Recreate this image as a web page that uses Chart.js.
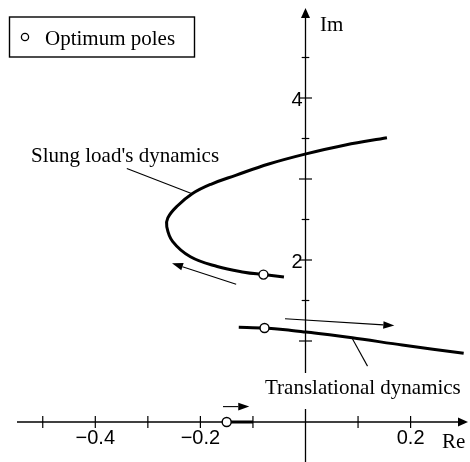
<!DOCTYPE html>
<html><head><meta charset="utf-8">
<script src="https://cdn.jsdelivr.net/npm/chart.js@4.4.1/dist/chart.umd.min.js"></script>
<style>html,body{margin:0;padding:0;background:#fff}canvas{display:block}</style>
</head><body>
<canvas id="c" width="470" height="462"></canvas>
<script>
// ---- data ----
const slungRe = [0.155, 0.076, 0.001, -0.070, -0.133, -0.180, -0.215, -0.245, -0.262, -0.264, -0.253, -0.219, -0.168, -0.117, -0.080, -0.041];
const slungIm = [3.51, 3.42, 3.31, 3.185, 3.045, 2.935, 2.82, 2.66, 2.52, 2.41, 2.23, 2.04, 1.92, 1.85, 1.82, 1.79];
const transRe = [-0.127, -0.078, -0.038, 0.001, 0.089, 0.184, 0.301];
const transIm = [1.17, 1.16, 1.14, 1.11, 1.04, 0.95, 0.85];
const realRe = [-0.150, -0.100];
const realIm = [0, 0];
const poleRe = [-0.080, -0.078, -0.150];
const poleIm = [1.82, 1.16, 0];
const xTicks = [-0.5, -0.4, -0.3, -0.2, -0.1, 0.1, 0.2];
const xLabelVals = [-0.4, -0.2, 0.2];
const xLabelText = ['\u22120.4', '\u22120.2', '0.2'];
const yTicks = [0.5, 1, 1.5, 2, 2.5, 3, 3.5, 4, 4.5];
const yLabelVals = [2, 4];
const yLabelText = ['2', '4'];
// direction arrows (tail -> tip)
const arrowTailRe = [-0.132, -0.039, -0.157];
const arrowTailIm = [1.70, 1.275, 0.19];
const arrowTipRe = [-0.254, 0.169, -0.107];
const arrowTipIm = [1.96, 1.19, 0.19];
// leader lines
const leaderSlungRe = [-0.340, -0.217];
const leaderSlungIm = [3.13, 2.82];
const leaderTransRe = [0.089, 0.118];
const leaderTransIm = [1.03, 0.69];

const pts = (xs, ys) => xs.map((x, i) => ({x: x, y: ys[i]}));

const axesPlugin = {
  id: 'axesPlugin',
  beforeDatasetsDraw(chart) {
    const ctx = chart.ctx, xs = chart.scales.x, ys = chart.scales.y;
    const x0 = xs.getPixelForValue(0), y0 = ys.getPixelForValue(0);
    ctx.save();
    ctx.strokeStyle = '#000'; ctx.fillStyle = '#000'; ctx.lineWidth = 1.3;
    // x axis
    ctx.beginPath(); ctx.moveTo(17, y0); ctx.lineTo(460, y0); ctx.stroke();
    ctx.beginPath(); ctx.moveTo(468, y0); ctx.lineTo(458, y0 - 4.5); ctx.lineTo(458, y0 + 4.5); ctx.closePath(); ctx.fill();
    // y axis
    ctx.beginPath(); ctx.moveTo(x0, 462); ctx.lineTo(x0, 16); ctx.stroke();
    ctx.beginPath(); ctx.moveTo(x0, 8); ctx.lineTo(x0 - 4.5, 18); ctx.lineTo(x0 + 4.5, 18); ctx.closePath(); ctx.fill();
    // ticks
    ctx.lineWidth = 1.2;
    xTicks.forEach(v => {
      const px = xs.getPixelForValue(v);
      ctx.beginPath(); ctx.moveTo(px, y0 - 6); ctx.lineTo(px, y0 + 6); ctx.stroke();
    });
    yTicks.forEach(v => {
      const py = ys.getPixelForValue(v);
      const L = Number.isInteger(v) ? 6.5 : 3.8;
      ctx.beginPath(); ctx.moveTo(x0 - L, py); ctx.lineTo(x0 + L, py); ctx.stroke();
    });
    // tick labels
    ctx.font = '20px "Liberation Sans", Arial, sans-serif';
    ctx.textAlign = 'center'; ctx.textBaseline = 'alphabetic';
    xLabelVals.forEach((v, i) => ctx.fillText(xLabelText[i], xs.getPixelForValue(v), y0 + 22));
    ctx.textAlign = 'right';
    yLabelVals.forEach((v, i) => ctx.fillText(yLabelText[i], x0 - 3, ys.getPixelForValue(v) + 7.5));
    ctx.restore();
  },
  afterDatasetsDraw(chart) {
    const ctx = chart.ctx, xs = chart.scales.x, ys = chart.scales.y;
    ctx.save();
    ctx.strokeStyle = '#000'; ctx.fillStyle = '#000'; ctx.lineWidth = 1.1;
    // direction arrows
    arrowTailRe.forEach((_, i) => {
      const x1 = xs.getPixelForValue(arrowTailRe[i]), y1 = ys.getPixelForValue(arrowTailIm[i]);
      const x2 = xs.getPixelForValue(arrowTipRe[i]), y2 = ys.getPixelForValue(arrowTipIm[i]);
      const a = Math.atan2(y2 - y1, x2 - x1), L = 11, W = 3.8;
      const bx = x2 - L * Math.cos(a), by = y2 - L * Math.sin(a);
      ctx.beginPath(); ctx.moveTo(x1, y1); ctx.lineTo(bx, by); ctx.stroke();
      ctx.beginPath(); ctx.moveTo(x2, y2);
      ctx.lineTo(bx + W * Math.sin(a), by - W * Math.cos(a));
      ctx.lineTo(bx - W * Math.sin(a), by + W * Math.cos(a));
      ctx.closePath(); ctx.fill();
    });
    // text labels
    ctx.font = '21px "Liberation Serif", "Times New Roman", serif';
    ctx.textAlign = 'left'; ctx.textBaseline = 'alphabetic';
    ctx.fillStyle = '#fff'; ctx.fillRect(262, 373, 208, 36);
    ctx.fillStyle = '#000';
    ctx.fillText('Translational dynamics', 265, 394);
    ctx.fillText("Slung load's dynamics", 31, 162);
    ctx.fillText('Im', 320, 31);
    ctx.fillText('Re', 442, 448);
    // legend
    ctx.fillStyle = '#fff'; ctx.fillRect(9.5, 17, 185, 40);
    ctx.lineWidth = 1.4; ctx.strokeStyle = '#000';
    ctx.strokeRect(9.5, 17, 185, 40);
    ctx.beginPath(); ctx.arc(25, 37, 3.6, 0, Math.PI * 2); ctx.lineWidth = 1.3; ctx.stroke();
    ctx.fillStyle = '#000';
    ctx.fillText('Optimum poles', 45, 45);
    ctx.restore();
  }
};

new Chart(document.getElementById('c'), {
  type: 'scatter',
  data: {
    datasets: [
      { label: 'Optimum poles', data: pts(poleRe, poleIm), showLine: false, pointRadius: 4.5,
        pointBackgroundColor: '#fff', pointBorderColor: '#000', pointBorderWidth: 1.4 },
      { label: 'Slung', data: pts(slungRe, slungIm), showLine: true, pointRadius: 0, borderColor: '#000', borderWidth: 3, tension: 0.4 },
      { label: 'Trans', data: pts(transRe, transIm), showLine: true, pointRadius: 0, borderColor: '#000', borderWidth: 3, tension: 0.3 },
      { label: 'Real', data: pts(realRe, realIm), showLine: true, pointRadius: 0, borderColor: '#000', borderWidth: 3 },
      { label: 'leader1', data: pts(leaderSlungRe, leaderSlungIm), showLine: true, pointRadius: 0, borderColor: '#000', borderWidth: 1.1 },
      { label: 'leader2', data: pts(leaderTransRe, leaderTransIm), showLine: true, pointRadius: 0, borderColor: '#000', borderWidth: 1.1 }
    ]
  },
  options: {
    responsive: false,
    animation: false,
    layout: { padding: 0, autoPadding: false },
    plugins: { legend: { display: false }, tooltip: { enabled: false } },
    scales: {
      x: { type: 'linear', display: false, min: -305.5 / 525.5, max: 164.5 / 525.5 },
      y: { type: 'linear', display: false, min: -40 / 81, max: 422 / 81 }
    }
  },
  plugins: [axesPlugin]
});
</script>
</body></html>
